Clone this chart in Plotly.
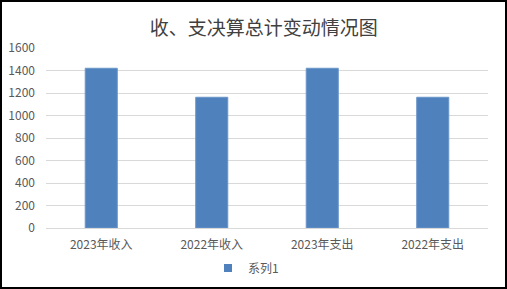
import plotly.graph_objects as go

categories = ["2023年收入", "2022年收入", "2023年支出", "2022年支出"]
values = [1420, 1162, 1420, 1162]
series_name = "系列1"
title_text = "收、支决算总计变动情况图"

W, H = 507, 289
ml, mr, mt, mb = 46, 19, 48, 61
pw, ph = W - ml - mr, H - mt - mb

def px_x(p):
    return (p - ml) / pw

def px_y(p):
    return (H - mb - p) / ph

font_family = "Noto Sans CJK SC, Noto Sans, sans-serif"
bar_color = "#4F81BD"

fig = go.Figure()
fig.add_trace(go.Bar(
    x=categories, y=values, name=series_name,
    marker=dict(color=bar_color, line=dict(color="#6A95C9", width=1)),
    showlegend=False,
))
# legend entry with a small square symbol
fig.add_trace(go.Scatter(
    x=[None], y=[None], mode="markers", name=series_name,
    marker=dict(symbol="square", size=8, color=bar_color),
    showlegend=True,
))

fig.update_layout(
    width=W, height=H,
    margin=dict(l=ml, r=mr, t=mt, b=mb, autoexpand=False),
    paper_bgcolor="white", plot_bgcolor="white",
    bargap=0.71,
    font=dict(family=font_family, color="#595959", size=12),
    title=dict(text=title_text, x=0.52, xanchor="center", y=1 - 28 / H, yanchor="middle",
               font=dict(size=19, color="#404040", family=font_family)),
    xaxis=dict(showgrid=False, showline=True, linecolor="#D9D9D9", linewidth=1,
               automargin=False,
               ticks="", ticklabelstandoff=6, tickfont=dict(size=12, color="#595959")),
    yaxis=dict(range=[0, 1600], dtick=200, showgrid=True, gridcolor="#D9D9D9",
               automargin=False,
               zeroline=False, showline=False, ticks="", ticklabelstandoff=10,
               tickfont=dict(size=12, color="#595959")),
    legend=dict(orientation="h", x=px_x(208), xanchor="left", y=px_y(268), yanchor="middle",
                font=dict(size=12, color="#595959"), itemwidth=30,
                bgcolor="rgba(0,0,0,0)", tracegroupgap=0),
    shapes=[dict(type="rect", xref="paper", yref="paper",
                 x0=px_x(1), x1=px_x(506), y0=px_y(1), y1=px_y(288),
                 line=dict(color="black", width=2), fillcolor="rgba(0,0,0,0)", layer="above")],
)

fig.write_html("out.html")
